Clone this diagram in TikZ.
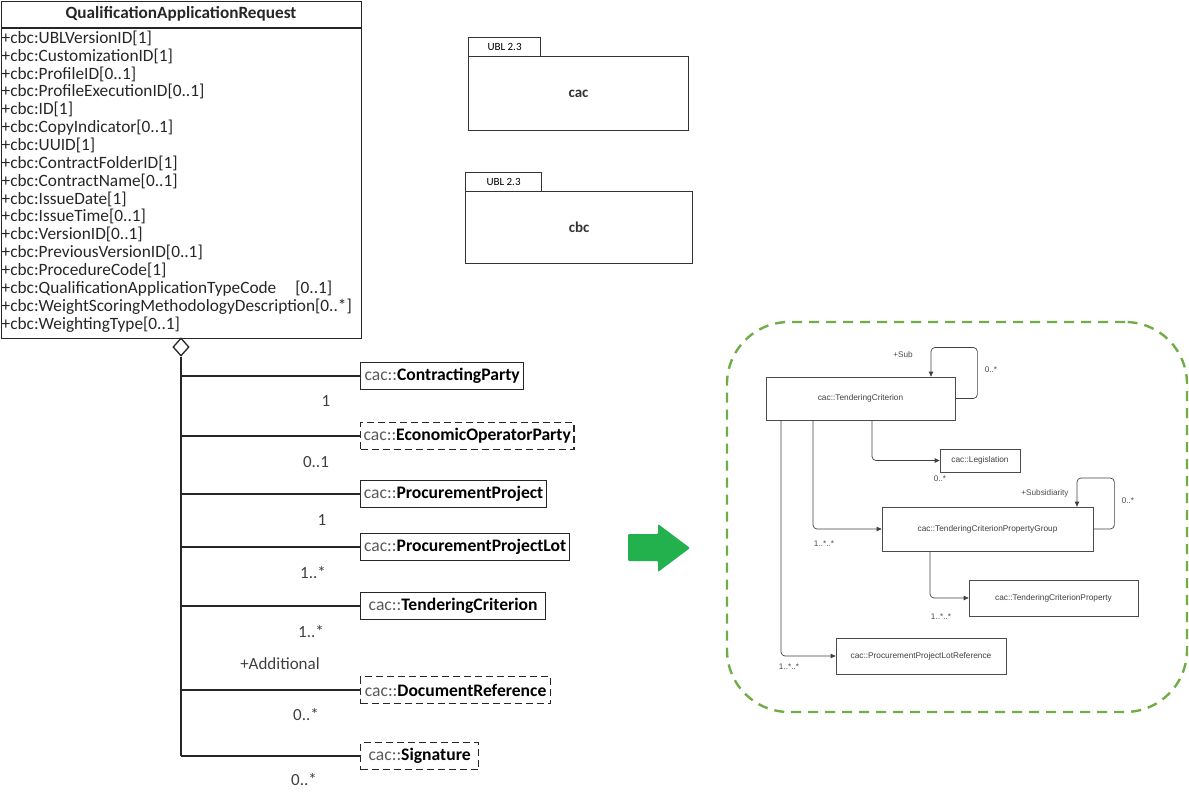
\documentclass[tikz,border=0pt]{standalone}
\usepackage{fontspec}
\setmainfont{Carlito}
\newfontfamily\arialfont{Liberation Sans}
\usetikzlibrary{arrows.meta,positioning,shapes.geometric}

\definecolor{zonegreen}{RGB}{112,173,71}
\definecolor{arrowgreen}{RGB}{34,177,76}

\begin{document}
\begin{tikzpicture}[
  x=1pt,y=-1pt,
  >=Latex,
  cls/.style={draw=black!85,line width=1.3pt,inner sep=0pt},
  part/.style={draw=black!85,line width=1.3pt,minimum height=27pt,inner sep=3pt,anchor=west,font=\fontsize{17.6}{18}\selectfont},
  optpart/.style={part,dash pattern=on 7pt off 4pt},
  link/.style={draw=black!85,line width=1.3pt},
  aggd/.style={diamond,draw=black!85,line width=1.3pt,fill=white,minimum width=16pt,minimum height=18pt,inner sep=0pt},
  mult/.style={font=\fontsize{17}{18}\selectfont,text=black!75},
  pkgtab/.style={draw=black!80,line width=1.1pt,inner sep=0pt,font=\fontsize{11}{12}\selectfont},
  pkgbody/.style={draw=black!80,line width=1.1pt,inner sep=0pt,font=\bfseries\fontsize{15}{16}\selectfont,text=black!80},
  zone/.style={draw=zonegreen,line width=2.4pt,dash pattern=on 10pt off 7pt,rounded corners=62pt},
  rbox/.style={draw=black!70,line width=0.7pt,inner sep=0pt,font=\arialfont\fontsize{8.3}{9}\selectfont,text=black!75},
  rlink/.style={-{Triangle[length=5pt,width=4.5pt]},draw=black!75,line width=0.7pt,rounded corners=4pt},
  rlab/.style={font=\arialfont\fontsize{8.2}{9}\selectfont,text=black!70}
]
  \useasboundingbox (0,0) rectangle (1189,792);

  % class QualificationApplicationRequest
  \node[cls,minimum width=360pt,minimum height=337pt,anchor=north west] (qar) at (0.7,0.7) {};
  \node[font=\bfseries\fontsize{17.2}{18}\selectfont,text=black!85] (qarname) at (181,14) {QualificationApplicationRequest};
  \draw[line width=1.3pt,draw=black!85] ([yshift=-27.3]qar.north west) -- ([yshift=-27.3]qar.north east);
  \node[anchor=base west,align=left,inner sep=0pt,font=\fontsize{17.3}{17.85}\selectfont,text=black!85] (attrs) at (1.5,329) {%
    +cbc:UBLVersionID[1]\\
    +cbc:CustomizationID[1]\\
    +cbc:ProfileID[0..1]\\
    +cbc:ProfileExecutionID[0..1]\\
    +cbc:ID[1]\\
    +cbc:CopyIndicator[0..1]\\
    +cbc:UUID[1]\\
    +cbc:ContractFolderID[1]\\
    +cbc:ContractName[0..1]\\
    +cbc:IssueDate[1]\\
    +cbc:IssueTime[0..1]\\
    +cbc:VersionID[0..1]\\
    +cbc:PreviousVersionID[0..1]\\
    +cbc:ProcedureCode[1]\\
    +cbc:QualificationApplicationTypeCode\hspace{19pt}[0..1]\\
    +cbc:WeightScoringMethodologyDescription[0..*]\\
    +cbc:WeightingType[0..1]};

  % aggregated parts
  \node[aggd] (agg) at (181,347) {};
  \node[part,minimum width=163pt] (cp) at (360,376) {\textcolor{black!65}{cac::}\textbf{ContractingParty}};
  \node[optpart,minimum width=213pt] (eop) at (360,436) {\textcolor{black!65}{cac::}\textbf{EconomicOperatorParty}};
  \node[part,minimum width=186pt] (pp) at (360,494) {\textcolor{black!65}{cac::}\textbf{ProcurementProject}};
  \node[part,minimum width=209pt] (ppl) at (360,547) {\textcolor{black!65}{cac::}\textbf{ProcurementProjectLot}};
  \node[part,minimum width=185pt] (tcl) at (360,606) {\textcolor{black!65}{cac::}\textbf{TenderingCriterion}};
  \node[optpart,minimum width=190pt] (dr) at (360,690) {\textcolor{black!65}{cac::}\textbf{DocumentReference}};
  \node[optpart,minimum width=118pt] (sig) at (360,756) {\textcolor{black!65}{cac::}\textbf{Signature}};

  \draw[link] (agg.south) -- (agg.south |- sig.west);
  \foreach \p in {cp,eop,pp,ppl,tcl,dr,sig}
    \draw[link] (agg.south |- \p.west) -- (\p.west);

  \node[mult] at (326,401) {1};
  \node[mult] at (316,462) {0..1};
  \node[mult] at (322,520) {1};
  \node[mult] at (313,573) {1..*};
  \node[mult] at (311,632) {1..*};
  \node[mult] at (280,664) {+Additional};
  \node[mult] at (306,715) {0..*};
  \node[mult] at (304,780) {0..*};

  % packages
  \node[pkgtab,minimum width=72pt,minimum height=19pt,anchor=north west] (cactab) at (468,37) {UBL 2.3};
  \node[pkgbody,minimum width=220pt,minimum height=74pt,anchor=north west] (cac) at (468,56) {cac};
  \node[pkgtab,minimum width=76pt,minimum height=19pt,anchor=north west] (cbctab) at (465,172) {UBL 2.3};
  \node[pkgbody,minimum width=227pt,minimum height=72pt,anchor=north west] (cbc) at (465,191) {cbc};

  % transformation arrow
  \fill[arrowgreen,rounded corners=1pt] (628,534) -- (658,534) -- (658,524) -- (690,548) -- (658,572) -- (658,561) -- (628,561) -- cycle;

  % restructured model
  \node[zone,minimum width=460pt,minimum height=390pt] (frame) at (957,517) {};

  \node[rbox,minimum width=189pt,minimum height=43pt] (tc) at (860.5,398.5) {cac::TenderingCriterion};
  \node[rbox,minimum width=80pt,minimum height=23pt] (leg) at (980,460.5) {cac::Legislation};
  \node[rbox,minimum width=211pt,minimum height=44pt] (tcpg) at (987.5,529) {cac::TenderingCriterionPropertyGroup};
  \node[rbox,minimum width=169pt,minimum height=36pt] (tcp) at (1053.5,598) {cac::TenderingCriterionProperty};
  \node[rbox,minimum width=170pt,minimum height=36pt] (pplr) at (921,656) {cac::ProcurementProjectLotReference};

  \draw[rlink] (tc.east) -| ++(22,-51) -| ([xshift=70.5]tc.north);
  \draw[rlink] ([xshift=11.5]tc.south) |- (leg.west);
  \draw[rlink] ([xshift=-47.5]tc.south) |- (tcpg.west);
  \draw[rlink] ([xshift=-79.5]tc.south) |- (pplr.west);
  \draw[rlink] (tcpg.east) -| ++(21,-51) -| ([xshift=89.5]tcpg.north);
  \draw[rlink] ([xshift=-57.5]tcpg.south) |- (tcp.west);

  \node[rlab] at (903,355) {+Sub};
  \node[rlab] at (991,370) {0..*};
  \node[rlab] at (940,479) {0..*};
  \node[rlab] at (1045,493) {+Subsidiarity};
  \node[rlab] at (1128,501) {0..*};
  \node[rlab] at (824,544) {1..*..*};
  \node[rlab] at (941,617) {1..*..*};
  \node[rlab] at (789,667) {1..*..*};
\end{tikzpicture}
\end{document}
